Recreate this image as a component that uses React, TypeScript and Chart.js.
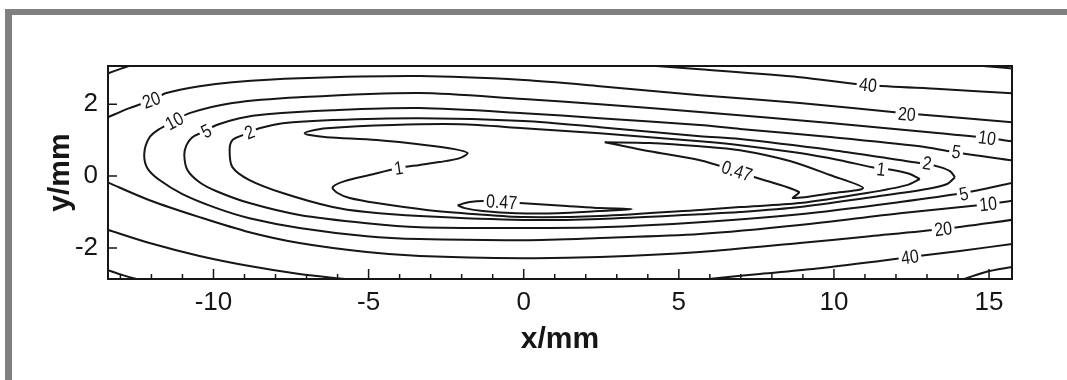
import React, { useEffect, useRef } from 'react';
import { Chart, registerables } from 'chart.js';

Chart.register(...registerables);

type P = [number, number];

// Axis ranges (mm)
const X_MIN = -13.4;
const X_MAX = 15.74;
const Y_MIN = -2.86;
const Y_MAX = 3.06;

// Tick values
const xTickValues = [-10, -5, 0, 5, 10, 15];
const xMinorTickValues = [-13, -12, -11, -9, -8, -7, -6, -4, -3, -2, -1, 1, 2, 3, 4, 6, 7, 8, 9, 11, 12, 13, 14];
const yTickValues = [-2, 0, 2];

// Contour lines (x mm, y mm)
const c40UpperLeft: P[] = [[-13.45, 2.84], [-13.0, 2.98], [-12.6, 3.1]];
const c40Upper: P[] = [[3.3, 3.12], [5.68, 2.97], [8.9, 2.75], [11.1, 2.53], [13.42, 2.42], [15.8, 2.3]];
const c40LowerLeft: P[] = [[-13.45, -1.48], [-12.06, -1.86], [-10.45, -2.22], [-8.84, -2.5], [-7.23, -2.72], [-5.77, -2.86], [-5.0, -2.93]];
const c40LowerRight: P[] = [[5.3, -2.93], [6.2, -2.84], [7.61, -2.72], [9.55, -2.56], [11.48, -2.36], [12.45, -2.25], [14.06, -2.08], [15.8, -1.88]];
const cCornerBL: P[] = [[-13.45, -2.6], [-12.9, -2.76], [-12.2, -2.92]];
const cCornerBR: P[] = [[13.9, -2.95], [14.87, -2.67], [15.8, -2.52]];
const cCornerTR: P[] = [[14.6, 3.08], [15.2, 3.03], [15.8, 2.99]];

const c20Upper: P[] = [[-13.45, 1.62], [-12.71, 1.89], [-12.0, 2.11], [-11.52, 2.31], [-10.45, 2.5], [-9.39, 2.61], [-7.23, 2.72], [-3.35, 2.78], [0, 2.67], [2.45, 2.5], [5.68, 2.25], [8.9, 2.03], [12.29, 1.75], [15.8, 1.49]];
const c20Lower: P[] = [[-13.45, -0.16], [-12.06, -0.67], [-10.45, -1.14], [-8.84, -1.56], [-7.23, -1.86], [-5.06, -2.11], [-3.35, -2.22], [0, -2.28], [2.45, -2.25], [5.68, -2.11], [8.9, -1.86], [11.16, -1.67], [13.48, -1.47], [15.8, -1.21]];

const c10: P[] = [
  [15.8, 0.96], [14.94, 1.06], [13.42, 1.19], [9.97, 1.47], [5.68, 1.78], [2.45, 2.0], [0, 2.14],
  [-3.35, 2.31], [-7.23, 2.19], [-9.39, 2.03], [-10.77, 1.75], [-11.26, 1.53], [-11.74, 1.31],
  [-12.06, 1.08], [-12.23, 0.64], [-12.13, 0.22], [-11.74, -0.11], [-11.0, -0.5], [-9.9, -0.89],
  [-8.84, -1.17], [-7.23, -1.44], [-5.06, -1.67], [-3.35, -1.75], [0, -1.78], [2.45, -1.72],
  [5.68, -1.61], [8.9, -1.36], [12.13, -1.03], [14.97, -0.78], [15.8, -0.68],
];

const c5: P[] = [
  [15.8, 0.43], [13.84, 0.67], [12.77, 0.83], [9.97, 1.08], [6.97, 1.31], [5.68, 1.42], [2.45, 1.61],
  [0, 1.75], [-3.35, 1.89], [-6.16, 1.83], [-8.29, 1.72], [-9.16, 1.61], [-9.9, 1.42], [-10.35, 1.22],
  [-10.68, 1.08], [-10.87, 0.86], [-10.94, 0.58], [-10.84, 0.17], [-10.45, -0.17], [-9.9, -0.42],
  [-8.84, -0.75], [-7.23, -1.08], [-5.06, -1.31], [-3.35, -1.42], [0, -1.44], [2.45, -1.42],
  [5.68, -1.28], [8.9, -1.06], [12.13, -0.72], [14.16, -0.47], [15.8, -0.18],
];

const c2: P[] = [
  [13.9, -0.03], [13.74, 0.14], [13.42, 0.25], [13.0, 0.33], [11.48, 0.53], [9.97, 0.72], [6.97, 1.03],
  [5.68, 1.11], [2.45, 1.36], [0, 1.53], [-3.35, 1.61], [-6.16, 1.56], [-7.77, 1.47], [-8.52, 1.33],
  [-8.84, 1.22], [-9.06, 1.14], [-9.39, 1.0], [-9.48, 0.72], [-9.39, 0.25], [-8.84, -0.11],
  [-7.77, -0.47], [-6.16, -0.86], [-5.06, -1.0], [-3.35, -1.11], [0, -1.22], [2.45, -1.19],
  [5.68, -1.06], [6.97, -1.0], [8.9, -0.86], [11.26, -0.58], [13.0, -0.36], [13.65, -0.22], [13.9, -0.03],
];

const c1: P[] = [
  [12.77, -0.08], [12.45, 0.06], [11.9, 0.17], [11.39, 0.22], [10.19, 0.44], [8.9, 0.64], [6.97, 0.86],
  [5.68, 0.97], [4.06, 1.08], [2.45, 1.19], [0, 1.33], [-2.06, 1.44], [-4.23, 1.42], [-6.35, 1.33],
  [-6.9, 1.25], [-7.06, 1.19], [-6.9, 1.14], [-6.35, 1.08], [-4.74, 1.0], [-3.13, 0.86], [-2.23, 0.75],
  [-1.81, 0.64], [-2.06, 0.5], [-2.71, 0.39], [-3.35, 0.31], [-4.06, 0.22], [-4.97, 0.03], [-5.77, -0.14],
  [-6.16, -0.31], [-6.0, -0.47], [-5.61, -0.61], [-4.74, -0.75], [-3.13, -0.94], [-1.52, -1.06],
  [0, -1.14], [2.45, -1.11], [5.68, -0.94], [6.97, -0.86], [8.9, -0.75], [11.06, -0.47], [12.35, -0.25], [12.77, -0.08],
];

const c047Left: P[] = [
  [-2.13, -0.81], [-1.74, -0.72], [-1.26, -0.69], [-0.13, -0.75], [1.39, -0.83], [2.45, -0.89], [3.48, -0.92],
  [2.45, -0.97], [1.1, -1.03], [-0.23, -1.03], [-1.32, -0.97], [-1.9, -0.89], [-2.13, -0.81],
];

const c047Right: P[] = [
  [2.61, 0.94], [4.06, 0.92], [5.68, 0.83], [6.97, 0.72], [8.58, 0.42], [9.87, 0.03], [10.94, -0.33],
  [9.97, -0.47], [8.68, -0.61], [8.87, -0.44], [7.45, -0.03], [6.74, 0.17], [5.68, 0.44], [4.06, 0.69],
  [3.1, 0.86], [2.61, 0.94],
];

const contourSeries: { level: string; pts: P[] }[] = [
  { level: '40', pts: c40UpperLeft },
  { level: '40', pts: c40Upper },
  { level: '40', pts: c40LowerLeft },
  { level: '40', pts: c40LowerRight },
  { level: '80', pts: cCornerBL },
  { level: '80', pts: cCornerBR },
  { level: '80', pts: cCornerTR },
  { level: '20', pts: c20Upper },
  { level: '20', pts: c20Lower },
  { level: '10', pts: c10 },
  { level: '5', pts: c5 },
  { level: '2', pts: c2 },
  { level: '1', pts: c1 },
  { level: '0.47', pts: c047Left },
  { level: '0.47', pts: c047Right },
];

// Contour labels (text, x mm, y mm, line they sit on)
const contourLabels: { text: string; x: number; y: number; on: P[] }[] = [
  { text: '20', x: -12.0, y: 2.11, on: c20Upper },
  { text: '10', x: -11.26, y: 1.53, on: c10 },
  { text: '5', x: -10.23, y: 1.25, on: c5 },
  { text: '2', x: -8.84, y: 1.22, on: c2 },
  { text: '1', x: -4.03, y: 0.22, on: c1 },
  { text: '0.47', x: -0.71, y: -0.72, on: c047Left },
  { text: '0.47', x: 6.87, y: 0.14, on: c047Right },
  { text: '1', x: 11.52, y: 0.19, on: c1 },
  { text: '2', x: 13.0, y: 0.36, on: c2 },
  { text: '5', x: 13.94, y: 0.67, on: c5 },
  { text: '10', x: 14.94, y: 1.06, on: c10 },
  { text: '20', x: 12.35, y: 1.72, on: c20Upper },
  { text: '40', x: 11.1, y: 2.53, on: c40Upper },
  { text: '5', x: 14.19, y: -0.5, on: c5 },
  { text: '10', x: 14.97, y: -0.78, on: c10 },
  { text: '20', x: 13.52, y: -1.47, on: c20Lower },
  { text: '40', x: 12.45, y: -2.25, on: c40LowerRight },
];

const NARROW = "'Liberation Sans Narrow', 'Arial Narrow', 'Liberation Sans', Arial, sans-serif";
const INK = '#161616';

const decorPlugin = {
  id: 'decor',
  beforeDraw(chart: any) {
    const { ctx, width, height } = chart;
    ctx.save();
    ctx.fillStyle = '#ffffff';
    ctx.fillRect(0, 0, width, height);
    ctx.fillStyle = '#808080';
    ctx.fillRect(5, 9, width - 5, 6);
    ctx.fillRect(5, 9, 7, height - 9);
    ctx.restore();
  },
  afterDatasetsDraw(chart: any) {
    const { ctx, chartArea: a } = chart;
    const xs = chart.scales.x;
    const ys = chart.scales.y;
    // contour labels
    ctx.save();
    ctx.font = `19px ${NARROW}`;
    for (const lb of contourLabels) {
      const px = xs.getPixelForValue(lb.x);
      const py = ys.getPixelForValue(lb.y);
      const pts = lb.on.map(([vx, vy]) => [xs.getPixelForValue(vx), ys.getPixelForValue(vy)]);
      let best = Infinity;
      let ang = 0;
      for (let i = 0; i < pts.length - 1; i++) {
        const [x1, y1] = pts[i];
        const [x2, y2] = pts[i + 1];
        const dx = x2 - x1, dy = y2 - y1;
        const len2 = dx * dx + dy * dy || 1;
        let t = ((px - x1) * dx + (py - y1) * dy) / len2;
        t = Math.max(0, Math.min(1, t));
        const cx = x1 + t * dx, cy = y1 + t * dy;
        const d = (cx - px) ** 2 + (cy - py) ** 2;
        if (d < best) {
          best = d;
          ang = Math.atan2(dy, dx);
        }
      }
      if (ang > Math.PI / 2) ang -= Math.PI;
      if (ang < -Math.PI / 2) ang += Math.PI;
      ctx.save();
      ctx.translate(px, py);
      ctx.rotate(ang);
      ctx.scale(0.84, 1);
      const w = ctx.measureText(lb.text).width;
      ctx.fillStyle = '#ffffff';
      ctx.fillRect(-w / 2 - 3, -8, w + 6, 16);
      ctx.fillStyle = INK;
      ctx.textAlign = 'center';
      ctx.textBaseline = 'middle';
      ctx.fillText(lb.text, 0, 1);
      ctx.restore();
    }
    ctx.restore();

    // frame and inward ticks
    ctx.save();
    ctx.strokeStyle = INK;
    ctx.lineWidth = 2;
    ctx.strokeRect(a.left, a.top, a.right - a.left, a.bottom - a.top);
    ctx.lineWidth = 1.5;
    ctx.beginPath();
    for (const v of xTickValues) {
      const p = xs.getPixelForValue(v);
      ctx.moveTo(p, a.bottom);
      ctx.lineTo(p, a.bottom - 10);
    }
    for (const v of xMinorTickValues) {
      const p = xs.getPixelForValue(v);
      ctx.moveTo(p, a.bottom);
      ctx.lineTo(p, a.bottom - 5);
    }
    for (const v of yTickValues) {
      const p = ys.getPixelForValue(v);
      ctx.moveTo(a.left, p);
      ctx.lineTo(a.left + 9, p);
    }
    ctx.stroke();
    ctx.restore();
  },
};

export default function App() {
  const ref = useRef<HTMLCanvasElement | null>(null);

  useEffect(() => {
    if (!ref.current) return;
    const chart = new Chart(ref.current, {
      type: 'scatter',
      data: {
        datasets: contourSeries.map((s) => ({
          label: s.level,
          data: s.pts.map(([x, y]) => ({ x, y })),
          showLine: true,
          tension: 0.3,
          pointRadius: 0,
          pointHoverRadius: 0,
          borderColor: INK,
          borderWidth: 2,
          fill: false,
        })),
      },
      options: {
        responsive: false,
        animation: false,
        events: [],
        layout: { padding: { left: 0, top: 66, right: 55, bottom: 0 } },
        plugins: {
          legend: { display: false },
          tooltip: { enabled: false },
          title: { display: false },
        },
        scales: {
          x: {
            type: 'linear',
            min: X_MIN,
            max: X_MAX,
            afterBuildTicks: (s: any) => {
              s.ticks = xTickValues.map((v) => ({ value: v }));
            },
            afterFit: (s: any) => {
              s.height = 101;
            },
            grid: { display: false, drawTicks: false },
            border: { display: false },
            ticks: {
              color: INK,
              padding: 8,
              maxRotation: 0,
              autoSkip: false,
              font: { family: NARROW, size: 26 },
              callback: (v: any) => String(v),
            },
            title: {
              display: true,
              text: 'x/mm',
              color: INK,
              font: { family: "'Liberation Sans', Arial, sans-serif", size: 30, weight: 'bold' },
              padding: { top: 0, bottom: 22 },
            },
          },
          y: {
            type: 'linear',
            min: Y_MIN,
            max: Y_MAX,
            afterBuildTicks: (s: any) => {
              s.ticks = yTickValues.map((v) => ({ value: v }));
            },
            afterFit: (s: any) => {
              s.width = 108;
            },
            grid: { display: false, drawTicks: false },
            border: { display: false },
            ticks: {
              color: INK,
              padding: 10,
              autoSkip: false,
              font: { family: NARROW, size: 26 },
              callback: (v: any) => String(v),
            },
            title: {
              display: true,
              text: 'y/mm',
              color: INK,
              font: { family: "'Liberation Sans', Arial, sans-serif", size: 30, weight: 'bold' },
              padding: { top: 43, bottom: 0 },
            },
          },
        },
      },
      plugins: [decorPlugin],
    } as any);
    return () => chart.destroy();
  }, []);

  return (
    <div style={{ position: 'absolute', left: 0, top: 0, width: 1067, height: 380, background: '#fff' }}>
      <canvas ref={ref} width={1067} height={380} style={{ display: 'block' }} />
    </div>
  );
}
